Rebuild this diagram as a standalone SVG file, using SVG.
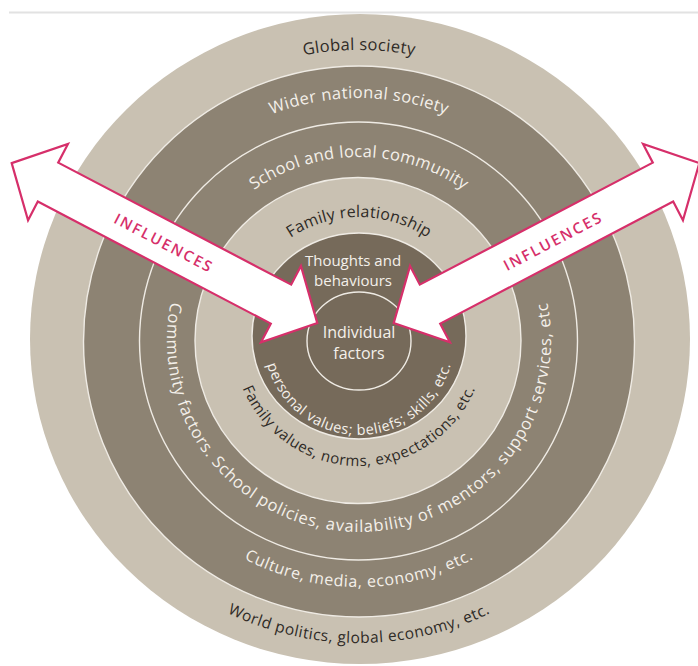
<svg xmlns="http://www.w3.org/2000/svg" width="698" height="666" viewBox="0 0 698 666">
<style>
.light{fill:#c9c1b2}
.mid{fill:#8d8373}
.dark{fill:#766a5a}
.edge{stroke:#efebe4;stroke-width:1.4}
.t{font-family:"Open Sans","Noto Sans","DejaVu Sans",sans-serif}
.tl{fill:#2e2a26}
.tw{fill:#f4f0ea}
.arrow{fill:#ffffff;stroke:#d62f6a;stroke-width:2.2;stroke-linejoin:miter}
.inf{font-family:"Open Sans","Noto Sans",sans-serif;font-size:15px;font-weight:600;fill:#d62f6a;letter-spacing:2px}
</style>
<defs>
<path id="pGlobal" d="M69,340 A290,290 0 0 1 649,340"/>
<path id="pWider" d="M117,340 A242,242 0 0 1 601,340"/>
<path id="pSchool" d="M176,340 A183,183 0 0 1 542,340"/>
<path id="pFamily" d="M236,340 A123,123 0 0 1 482,340"/>
<path id="pPersonal" d="M281.2,285.5 A95,95 0 1 0 436.8,285.5"/>
<path id="pFamVal" d="M255.8,267.7 A126,126 0 1 0 462.2,267.7"/>
<path id="pCommunity" d="M201.7,229.9 A192,192 0 1 0 516.3,229.9"/>
<path id="pCulture" d="M156.7,198.3 A247,247 0 1 0 561.3,198.3"/>
<path id="pWorld" d="M110.8,166.2 A303,303 0 1 0 607.2,166.2"/>
</defs>
<line x1="9" y1="12.5" x2="698" y2="12.5" stroke="#e2e2e2" stroke-width="2"/>
<g id="global-society">
<ellipse cx="360" cy="339" rx="330" ry="325" class="light"/>
<text class="t tl" font-size="16.5" letter-spacing="0.3" text-anchor="middle"><textPath href="#pGlobal" startOffset="50%">Global society</textPath></text>
<text class="t tl" font-size="15.5" letter-spacing="0.5" text-anchor="middle"><textPath href="#pWorld" startOffset="50%">World politics, global economy, etc.</textPath></text>
</g>
<g id="wider-national-society">
<circle cx="359" cy="341.5" r="275.5" class="mid edge"/>
<text class="t tw" font-size="16.5" letter-spacing="0.4" text-anchor="middle"><textPath href="#pWider" startOffset="50%">Wider national society</textPath></text>
<text class="t tw" font-size="16" letter-spacing="0.6" text-anchor="middle"><textPath href="#pCulture" startOffset="50%">Culture, media, economy, etc.</textPath></text>
</g>
<g id="school-local-community">
<circle cx="358.5" cy="341" r="219" class="mid edge"/>
<text class="t tw" font-size="16.5" letter-spacing="0.3" text-anchor="middle"><textPath href="#pSchool" startOffset="50%">School and local community</textPath></text>
<text class="t tw" font-size="16.5" letter-spacing="0.8" text-anchor="middle"><textPath href="#pCommunity" startOffset="50%">Community factors. School policies, availability of mentors, support services, etc</textPath></text>
</g>
<g id="family-relationship">
<circle cx="358" cy="340.5" r="163" class="light edge"/>
<text class="t tl" font-size="16" letter-spacing="0.2" text-anchor="middle"><textPath href="#pFamily" startOffset="50%">Family relationship</textPath></text>
<text class="t tl" font-size="15" letter-spacing="0.5" text-anchor="middle"><textPath href="#pFamVal" startOffset="50%">Family values, norms, expectations, etc.</textPath></text>
</g>
<g id="thoughts-behaviours">
<ellipse cx="359" cy="336" rx="107" ry="103" class="dark edge"/>
<text class="t tw" font-size="15" text-anchor="middle" x="353" y="266">Thoughts and</text>
<text class="t tw" font-size="15" text-anchor="middle" x="353" y="286">behaviours</text>
<text class="t tw" font-size="14.5" letter-spacing="0.5" text-anchor="middle"><textPath href="#pPersonal" startOffset="50%">personal values; beliefs; skills, etc.</textPath></text>
</g>
<g id="individual-factors">
<ellipse cx="359" cy="341" rx="52" ry="49" fill="none" class="edge"/>
<text class="t tw" font-size="16" text-anchor="middle" x="359" y="338">Individual</text>
<text class="t tw" font-size="16" text-anchor="middle" x="359" y="359">factors</text>
</g>
<g id="connectors">
<g id="influence-left" transform="translate(-64.5,123.2) rotate(27.64)">
<polygon class="arrow" points="86,0 127,-43 127,-22 390,-22 390,-43 431,0 390,43 390,22 127,22 127,43"/>
<text class="inf" x="258" y="5.5" text-anchor="middle">INFLUENCES</text>
</g>
<g id="influence-right">
<polygon class="arrow" transform="translate(711,0) scale(-1,1) translate(-64.5,123.2) rotate(27.64)" points="86,0 127,-43 127,-22 390,-22 390,-43 431,0 390,43 390,22 127,22 127,43"/>
<text class="inf" transform="translate(553,241) rotate(-27.64)" x="0" y="5.5" text-anchor="middle">INFLUENCES</text>
</g>
</g>
</svg>
